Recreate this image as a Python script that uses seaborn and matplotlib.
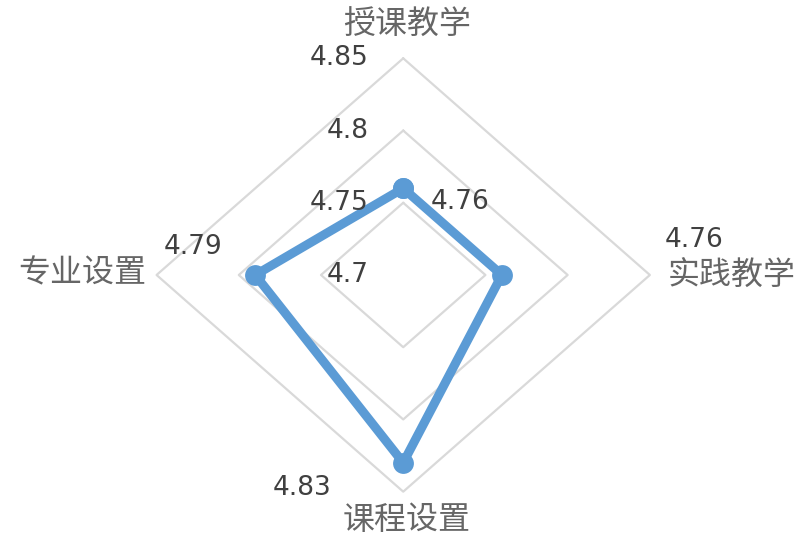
import matplotlib
matplotlib.use("Agg")
import matplotlib.pyplot as plt
import numpy as np
import pandas as pd
import seaborn as sns

# Survey scores per dimension (clockwise from the top)
categories = ["授课教学", "实践教学", "课程设置", "专业设置"]
scores = [4.76, 4.76, 4.83, 4.79]
score_labels = ["4.76", "4.76", "4.83", "4.79"]

# Radial scale
r_min, r_max = 4.70, 4.85
ring_levels = [4.75, 4.80, 4.85]
tick_levels = [4.70, 4.75, 4.80, 4.85]
tick_labels = ["4.7", "4.75", "4.8", "4.85"]

sns.set_theme(style="white")
plt.rcParams["font.family"] = ["Noto Sans CJK SC", "DejaVu Sans"]

line_color = "#5B9BD5"
grid_color = "#D9D9D9"

n = len(categories)
angles = np.linspace(0, 2 * np.pi, n, endpoint=False)
closed_angles = np.append(angles, 2 * np.pi)

df = pd.DataFrame({"theta": closed_angles,
                   "score": scores + scores[:1]})

fig = plt.figure(figsize=(8.05, 5.35), dpi=100)
ax = fig.add_axes([0.1945, 0.081, 0.6128, 0.81], projection="polar")
ax.set_aspect("auto")
ax.set_theta_zero_location("N")
ax.set_theta_direction(-1)
ax.set_ylim(r_min, r_max)
ax.grid(False)
ax.set_xticks([])
ax.set_yticks([])
ax.spines["polar"].set_visible(False)
ax.set_facecolor("none")

# Diamond-shaped rings
for lvl in ring_levels:
    ax.plot(closed_angles, [lvl] * len(closed_angles), color=grid_color,
            lw=1.6, zorder=1, clip_on=False)

# Score polygon
sns.lineplot(data=df, x="theta", y="score", sort=False, estimator=None,
             ax=ax, color=line_color, lw=6.5, marker="o", markersize=15,
             markeredgewidth=0, zorder=3, clip_on=False)
ax.set_xlabel("")
ax.set_ylabel("")

# Radial tick labels along the top spoke
for lvl, lab in zip(tick_levels, tick_labels):
    ax.annotate(lab, (0, lvl), xytext=(-35, 0), textcoords="offset pixels",
                ha="right", va="center", fontsize=19, color="#404040",
                family="DejaVu Sans")

# Category labels outside the outer ring
cat_offsets = [(4, 33), (18, 0), (3, -28), (-10, 2)]
cat_align = ["center", "left", "center", "right"]
for ang, name, off, ha in zip(angles, categories, cat_offsets, cat_align):
    ax.annotate(name, (ang, r_max), xytext=off, textcoords="offset pixels",
                ha=ha, va="center", fontsize=23, color="#666666",
                fontweight="light", annotation_clip=False)

# Data labels
val_offsets = [(57, -14), (192, 35), (-101, -25), (-62, 28)]
for ang, val, lab, off in zip(angles, scores, score_labels, val_offsets):
    ax.annotate(lab, (ang, val), xytext=off, textcoords="offset pixels",
                ha="center", va="center", fontsize=19, color="#404040",
                family="DejaVu Sans", annotation_clip=False)

fig.savefig("out.png", dpi=100, facecolor="white")
